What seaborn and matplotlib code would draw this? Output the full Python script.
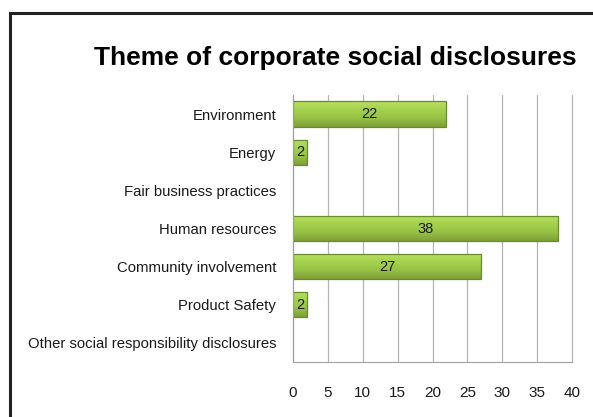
import matplotlib
matplotlib.use("Agg")
import matplotlib.pyplot as plt
import seaborn as sns
import numpy as np
import pandas as pd
from matplotlib.patches import Rectangle
from matplotlib.colors import LinearSegmentedColormap

categories = ["Environment", "Energy", "Fair business practices", "Human resources",
              "Community involvement", "Product Safety", "Other social responsibility disclosures"]
values = [22, 2, 0, 38, 27, 2, 0]
x_ticks = [0, 5, 10, 15, 20, 25, 30, 35, 40]
title = "Theme of corporate social disclosures"

df = pd.DataFrame({"theme": categories, "count": values})

sns.set_theme(style="white")
plt.rcParams["font.family"] = ["Liberation Sans Narrow", "Liberation Sans", "DejaVu Sans"]

fig = plt.figure(figsize=(5.93, 4.17), dpi=100)
ax = fig.add_axes([293/593, 1-362/417, (572-293)/593, (362-95)/417])

sns.barplot(data=df, y="theme", x="count", order=categories, color="#9dc850",
            edgecolor="none", linewidth=0, width=0.66, ax=ax, zorder=3)

cmap = LinearSegmentedColormap.from_list("g", ["#b8e05e", "#a5d24e", "#96c145", "#7e9f38"])
grad = np.linspace(0, 1, 64).reshape(-1, 1)
for p, v in zip(ax.patches, values):
    if v <= 0:
        continue
    x0, y0 = p.get_x(), p.get_y()
    w, h = p.get_width(), p.get_height()
    im = ax.imshow(grad, cmap=cmap, aspect="auto", extent=[x0, x0 + w, y0 + h, y0],
                   origin="upper", zorder=3.5, interpolation="bilinear")
    im.set_clip_path(p)
    ax.add_patch(Rectangle((x0, y0), w, h, fill=False, edgecolor="#6b8a2e", linewidth=0.9, zorder=4))
    ax.text(x0 + w / 2, y0 + h / 2, f"{v}", ha="center", va="center", fontsize=10.5,
            color="#1a1a1a", zorder=5)

ax.set_xlim(0, 40)
ax.set_ylim(len(categories) - 0.5, -0.5)
ax.set_xticks(x_ticks)
ax.set_xticklabels([str(t) for t in x_ticks])
ax.xaxis.grid(True, color="#b4b4b4", linewidth=0.9, zorder=0)
for gl in ax.get_xgridlines():
    gl.set_clip_on(False)
ax.yaxis.grid(False)
ax.set_xlabel("")
ax.set_ylabel("")
for s in ["top", "right"]:
    ax.spines[s].set_visible(False)
for s in ["left", "bottom"]:
    ax.spines[s].set_color("#a0a0a0")
    ax.spines[s].set_linewidth(0.8)
    ax.spines[s].set_zorder(6)
ax.tick_params(axis="x", length=0, pad=17, labelsize=11, colors="#1a1a1a")
ax.tick_params(axis="y", length=0, pad=12, labelsize=10.7, colors="#1a1a1a")

fig.text(335/593, 1-58/417, title, ha="center", va="center", fontsize=19,
         fontweight="bold", color="black")

fig.patches.append(Rectangle((10/593, -0.1), 1.2, 1 - 13/417 + 0.1, transform=fig.transFigure,
                             fill=False, edgecolor="#222222", linewidth=2.2, zorder=10))

fig.savefig("out.png", dpi=100)
